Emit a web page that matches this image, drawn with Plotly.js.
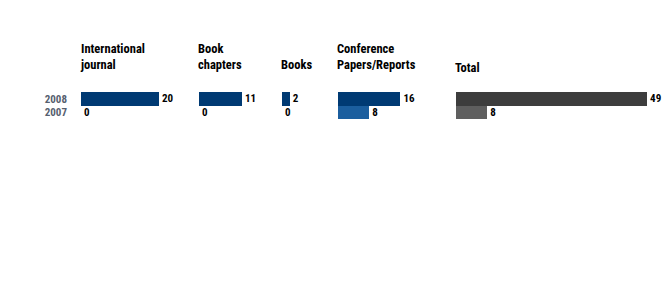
<!DOCTYPE html>
<html><head><meta charset="utf-8">
<script src="https://cdn.plot.ly/plotly-3.0.1.min.js"></script>
<style>html,body{margin:0;padding:0;background:#fff}</style>
</head><body><div id="chart" style="width:665px;height:298px"></div>
<script>
const categories = ['International<br>journal', 'Book<br>chapters', 'Books', 'Conference<br>Papers/Reports', 'Total'];
const years = ['2007', '2008'];
const values2008 = [20, 11, 2, 16, 49];
const values2007 = [0, 0, 0, 8, 8];
const colors2008 = ['#003a73', '#003a73', '#003a73', '#003a73', '#3d3d3d'];
const colors2007 = ['#1b5e9e', '#1b5e9e', '#1b5e9e', '#1b5e9e', '#5f5f5f'];

const W = 665;
const pxPerUnit = 3.9;
const panelPx = [[81, 195], [199, 278], [282, 334], [338, 452], [456, 665]];
const titleShift = [0, 0, 0, 0, -3];
const FONT = '"Liberation Sans Narrow", "Roboto Condensed", "DejaVu Sans Condensed", Arial, sans-serif';

const traces = [];
const layout = {
  width: 665, height: 298,
  margin: {l: 0, r: 0, t: 92, b: 179},
  paper_bgcolor: '#fff', plot_bgcolor: 'rgba(0,0,0,0)',
  showlegend: false, barmode: 'group', bargap: 0, bargroupgap: 0,
  font: {family: FONT, size: 11, color: '#000'},
  annotations: []
};

categories.forEach((cat, i) => {
  const n = i === 0 ? '' : String(i + 1);
  const xa = 'x' + n, ya = 'y' + n;
  traces.push({
    type: 'bar', orientation: 'h', x: [values2007[i], values2008[i]], y: years,
    xaxis: xa, yaxis: ya,
    marker: {color: [colors2007[i], colors2008[i]]},
    text: [String(values2007[i]), String(values2008[i])],
    textposition: 'outside', cliponaxis: false, constraintext: 'none',
    textfont: {family: FONT, size: 11, color: '#000', weight: 'bold'},
    hoverinfo: 'skip'
  });
  const d = panelPx[i];
  layout['xaxis' + n] = {
    domain: [d[0] / W, d[1] / W], anchor: ya,
    range: [0, (d[1] - d[0]) / pxPerUnit],
    showgrid: false, zeroline: false, showticklabels: false, showline: false, ticks: ''
  };
  layout['yaxis' + n] = {
    type: 'category', categoryorder: 'array', categoryarray: years,
    anchor: xa, domain: [0, 1],
    showgrid: false, zeroline: false, showline: false, ticks: '',
    showticklabels: i === 0, ticklabelstandoff: 13,
    tickfont: {family: FONT, size: 11, color: '#56606f', weight: 'bold'}
  };
  layout.annotations.push({
    text: cat, xref: xa + ' domain', yref: 'paper', x: 0, y: (119 - 71.5) / 27,
    xanchor: 'left', yanchor: 'bottom', align: 'left', showarrow: false,
    borderpad: 0, borderwidth: 0, xshift: -1,
    yshift: titleShift[i],
    font: {family: FONT, size: 12.5, color: '#000', weight: 'bold'}
  });
});

Plotly.newPlot('chart', traces, layout, {displayModeBar: false, staticPlot: true});
</script></body></html>
